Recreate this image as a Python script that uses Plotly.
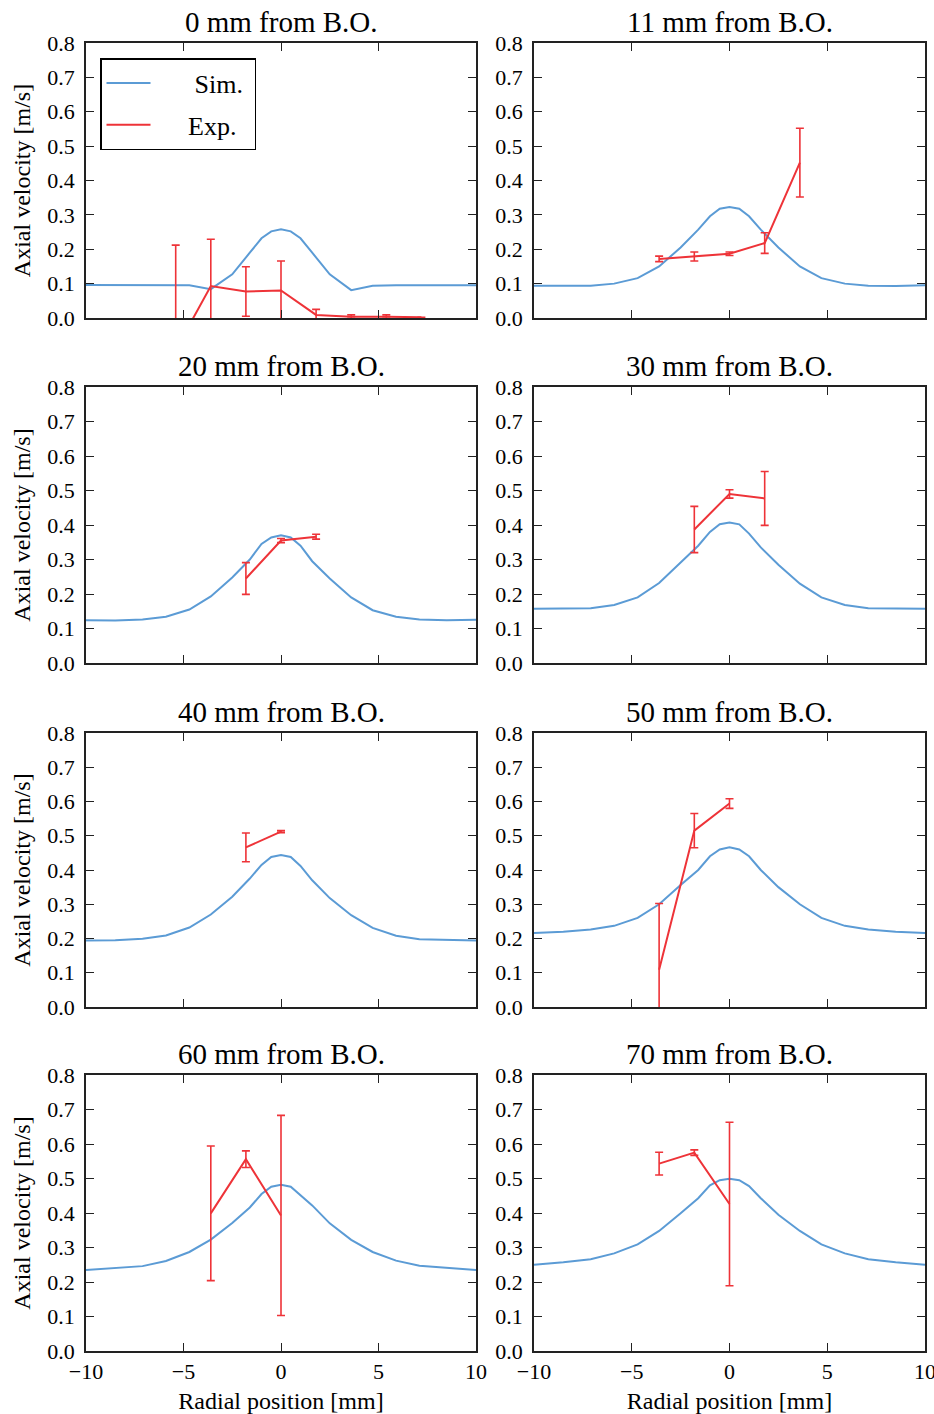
import plotly.graph_objects as go
from plotly.subplots import make_subplots

# ---------------- data ----------------
panel_titles = ["0 mm from B.O.", "11 mm from B.O.", "20 mm from B.O.", "30 mm from B.O.",
                "40 mm from B.O.", "50 mm from B.O.", "60 mm from B.O.", "70 mm from B.O."]

sim_x = [-10, -8.5, -7.1, -5.9, -4.7, -3.6, -2.5, -1.6, -1.0, -0.5, 0,
         0.5, 1.0, 1.6, 2.5, 3.6, 4.7, 5.9, 7.1, 8.5, 10]

sim_0 = [0.096, 0.096, 0.096, 0.095, 0.095, 0.084, 0.127, 0.190, 0.232, 0.252, 0.258,
         0.252, 0.232, 0.190, 0.127, 0.081, 0.094, 0.095, 0.095, 0.095, 0.095]
sim_11 = [0.094, 0.093, 0.094, 0.100, 0.116, 0.150, 0.205, 0.257, 0.296, 0.318, 0.323,
          0.318, 0.296, 0.257, 0.205, 0.150, 0.116, 0.100, 0.094, 0.093, 0.095]
sim_20 = [0.124, 0.123, 0.126, 0.134, 0.155, 0.193, 0.248, 0.300, 0.345, 0.364, 0.370,
          0.364, 0.340, 0.295, 0.245, 0.190, 0.153, 0.134, 0.126, 0.124, 0.125]
sim_30 = [0.157, 0.157, 0.159, 0.168, 0.190, 0.232, 0.290, 0.340, 0.380, 0.402, 0.407,
          0.402, 0.375, 0.335, 0.285, 0.230, 0.190, 0.168, 0.159, 0.157, 0.157]
sim_40 = [0.194, 0.195, 0.199, 0.209, 0.232, 0.270, 0.322, 0.375, 0.415, 0.438, 0.444,
          0.438, 0.412, 0.370, 0.318, 0.268, 0.231, 0.208, 0.198, 0.195, 0.194]
sim_50 = [0.216, 0.220, 0.226, 0.237, 0.260, 0.300, 0.356, 0.400, 0.440, 0.460, 0.466,
          0.460, 0.440, 0.400, 0.350, 0.300, 0.260, 0.237, 0.226, 0.220, 0.216]
sim_60 = [0.235, 0.240, 0.246, 0.261, 0.287, 0.323, 0.371, 0.416, 0.455, 0.476, 0.482,
          0.476, 0.452, 0.422, 0.370, 0.322, 0.287, 0.262, 0.247, 0.241, 0.235]
sim_70 = [0.250, 0.257, 0.266, 0.283, 0.309, 0.348, 0.399, 0.443, 0.480, 0.495, 0.499,
          0.495, 0.478, 0.443, 0.395, 0.348, 0.309, 0.283, 0.266, 0.257, 0.250]

exp_x_0 = [-5.4, -3.6, -1.8, 0, 1.8, 3.6, 5.4, 7.2]
exp_y_0 = [-0.093, 0.093, 0.077, 0.080, 0.009, 0.004, 0.004, 0.002]
exp_e_0 = [0.305, 0.136, 0.072, 0.086, 0.016, 0.005, 0.005, 0.0]

exp_x_11 = [-3.6, -1.8, 0, 1.8, 3.6]
exp_y_11 = [0.172, 0.179, 0.187, 0.218, 0.452]
exp_e_11 = [0.008, 0.013, 0.005, 0.030, 0.100]

exp_x_20 = [-1.8, 0, 1.8]
exp_y_20 = [0.245, 0.355, 0.366]
exp_e_20 = [0.046, 0.006, 0.007]

exp_x_30 = [-1.8, 0, 1.8]
exp_y_30 = [0.387, 0.490, 0.477]
exp_e_30 = [0.067, 0.012, 0.078]

exp_x_40 = [-1.8, 0]
exp_y_40 = [0.466, 0.512]
exp_e_40 = [0.042, 0.003]

exp_x_50 = [-3.6, -1.8, 0]
exp_y_50 = [0.109, 0.515, 0.594]
exp_e_50 = [0.193, 0.050, 0.014]

exp_x_60 = [-3.6, -1.8, 0]
exp_y_60 = [0.399, 0.556, 0.393]
exp_e_60 = [0.195, 0.024, 0.290]

exp_x_70 = [-3.6, -1.8, 0]
exp_y_70 = [0.543, 0.575, 0.426]
exp_e_70 = [0.033, 0.008, 0.237]

x_tickvals = [-10, -5, 0, 5, 10]
x_ticktext = ["\u221210", "\u22125", "0", "5", "10"]
y_tickvals = [0.0, 0.1, 0.2, 0.3, 0.4, 0.5, 0.6, 0.7, 0.8]

# ---------------- figure ----------------
sims = [sim_0, sim_11, sim_20, sim_30, sim_40, sim_50, sim_60, sim_70]
exps = [(exp_x_0, exp_y_0, exp_e_0), (exp_x_11, exp_y_11, exp_e_11),
        (exp_x_20, exp_y_20, exp_e_20), (exp_x_30, exp_y_30, exp_e_30),
        (exp_x_40, exp_y_40, exp_e_40), (exp_x_50, exp_y_50, exp_e_50),
        (exp_x_60, exp_y_60, exp_e_60), (exp_x_70, exp_y_70, exp_e_70)]

FONT = "Liberation Serif"
BLUE = "#5b9bd5"
RED = "#ee3338"
NB = "\u00a0"

fig = make_subplots(rows=4, cols=2)

W, H = 934, 1414
ML, MR, MT, MB = 86, 9, 43, 63
pw = W - ML - MR
ph = H - MT - MB
col_px = [(86, 476), (534, 925)]
row_px = [(43, 318), (387, 663), (733, 1007), (1075, 1351)]

def xdom(c):
    a, b = col_px[c]
    return [(a - ML) / pw, (b - ML) / pw]

def ydom(r):
    t, b = row_px[r]
    return [(H - MB - b) / ph, (H - MB - t) / ph]

for i in range(8):
    r, c = divmod(i, 2)
    fig.add_trace(go.Scatter(
        x=sim_x, y=sims[i], mode="lines",
        line=dict(color=BLUE, width=2),
        name=NB * 6 + "Sim." + NB, showlegend=(i == 0), legendgroup="sim"),
        row=r + 1, col=c + 1)
    ex, ey, ee = exps[i]
    fig.add_trace(go.Scatter(
        x=ex, y=ey, mode="lines",
        line=dict(color=RED, width=2),
        error_y=dict(type="data", array=ee, visible=True, color=RED,
                     thickness=1.6, width=4),
        name=NB * 5 + "Exp." + NB, showlegend=(i == 0), legendgroup="exp"),
        row=r + 1, col=c + 1)

annotations = []
for i in range(8):
    r, c = divmod(i, 2)
    idx = "" if i == 0 else str(i + 1)
    xd = xdom(c)
    yd = ydom(r)
    fig.layout["xaxis" + idx].update(
        domain=xd, range=[-10, 10], tickvals=x_tickvals, ticktext=x_ticktext,
        showticklabels=(r == 3), ticks="inside", ticklen=8, tickwidth=1.4,
        tickcolor="#222", showline=True, linecolor="#222", linewidth=1.8,
        mirror="ticks", showgrid=False, zeroline=False, automargin=False,
        ticklabeloverflow="allow",
        tickfont=dict(family=FONT, size=22, color="black"),
        title=dict(text="Radial position [mm]" if r == 3 else "",
                   font=dict(family=FONT, size=24, color="black"), standoff=10))
    fig.layout["yaxis" + idx].update(
        domain=yd, range=[0, 0.8], tickvals=y_tickvals, tickformat=".1f",
        ticks="inside", ticklen=8, tickwidth=1.4, tickcolor="#222",
        showline=True, linecolor="#222", linewidth=1.8, mirror="ticks",
        showgrid=False, zeroline=False, ticklabelstandoff=5, automargin=False,
        ticklabeloverflow="allow",
        tickfont=dict(family=FONT, size=22, color="black"),
        title=dict(text="Axial velocity [m/s]" if c == 0 else "",
                   font=dict(family=FONT, size=24, color="black"), standoff=10))
    annotations.append(dict(
        text=panel_titles[i], xref="paper", yref="paper",
        x=(xd[0] + xd[1]) / 2, y=yd[1], xanchor="center", yanchor="middle",
        yshift=21, showarrow=False,
        font=dict(family=FONT, size=29, color="black")))

fig.update_layout(
    width=W, height=H,
    margin=dict(l=ML, r=MR, t=MT, b=MB, autoexpand=False),
    paper_bgcolor="white", plot_bgcolor="white",
    annotations=annotations,
    showlegend=True,
    legend=dict(x=(100 - ML) / pw, y=(H - MB - 58) / ph, xanchor="left", yanchor="top",
                bgcolor="white", bordercolor="black", borderwidth=1.5,
                font=dict(family=FONT, size=26, color="black"),
                traceorder="grouped", tracegroupgap=5, itemwidth=44),
)

fig.write_html(
    "out.html",
    config={"displayModeBar": False},
    post_script=("document.documentElement.style.overflow='hidden';"
                 "document.body.style.overflow='hidden';"
                 "document.body.style.margin='0';"),
)
